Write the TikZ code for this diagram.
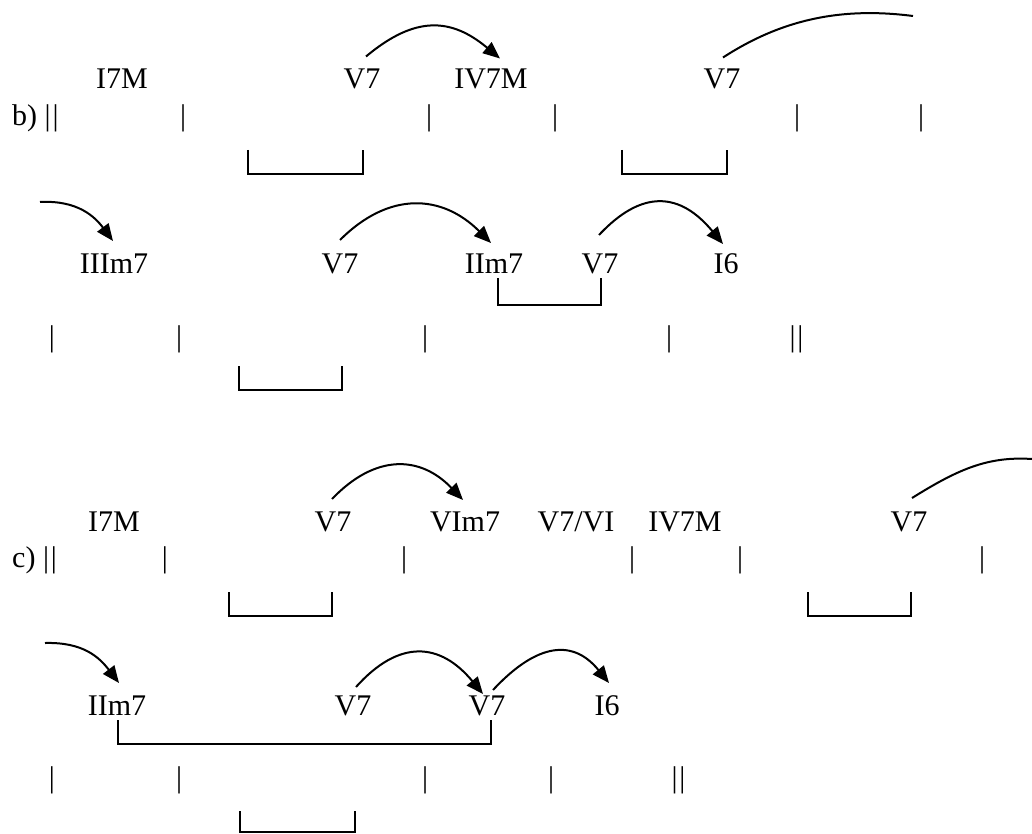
\documentclass[tikz,border=0pt]{standalone}
\usepackage{fontspec}
\setmainfont{Liberation Serif}
\usetikzlibrary{arrows.meta}
\newcommand{\dbar}{|\kern2pt|}
\begin{document}
\begin{tikzpicture}[x=1pt,y=-1pt,
  every node/.style={font=\fontsize{30}{34}\selectfont, inner sep=0pt, anchor=base},
  chord/.style={},
  barmark/.style={},
  lead/.style={anchor=base west},
  arr/.style={line width=2pt, -{Triangle[length=17pt,width=14pt]}},
  arc/.style={line width=2pt},
  brk/.style={line width=1.8pt}]
\useasboundingbox (0,0) rectangle (1032,834);
% ---------- row b, line 1 ----------
\node[chord] (b1) at (122,88.5) {I7M};
\node[chord] (b2) at (362,88.5) {V7};
\node[chord] (b3) at (491,88.5) {IV7M};
\node[chord] (b4) at (722,88.5) {V7};
\node[lead] (blead) at (12,125.5) {b) \dbar};
\node[barmark] (bb1) at (183,125.5) {|};
\node[barmark] (bb2) at (429,125.5) {|};
\node[barmark] (bb3) at (555,125.5) {|};
\node[barmark] (bb4) at (797,125.5) {|};
\node[barmark] (bb5) at (921,125.5) {|};
\draw[brk] (248,150) -- (248,174) -- (363,174) -- (363,150);
\draw[brk] (622,150) -- (622,174) -- (727,174) -- (727,150);
\draw[arr] ([shift={(4,-32)}]b2.base) .. controls +(49,-41) and +(-49,-41) .. ([shift={(9,-30)}]b3.base);
\coordinate (bend1) at (913,16);
\draw[arc] ([shift={(1,-31)}]b4.base) .. controls +(60,-39) and +(-70,-9) .. (bend1);
% ---------- row b, line 2 ----------
\node[chord] (d1) at (114,273) {IIIm7};
\node[chord] (d2) at (340,273) {V7};
\node[chord] (d3) at (494,273) {IIm7};
\node[chord] (d4) at (600,273) {V7};
\node[chord] (d5) at (726,273) {I6};
\coordinate (din) at (40,202);
\draw[arr] (din) .. controls +(38,-2) and +(-18,-24) .. ([shift={(-1,-32)}]d1.base);
\draw[arr] ([shift={(0,-33)}]d2.base) .. controls +(49,-49) and +(-49,-49) .. ([shift={(-3,-30)}]d3.base);
\draw[arr] ([shift={(-1,-38)}]d4.base) .. controls +(43,-46) and +(-43,-52) .. ([shift={(-3,-29)}]d5.base);
\draw[brk] (498,278) -- (498,305) -- (601,305) -- (601,278);
\node[barmark] (db1) at (52,346.5) {|};
\node[barmark] (db2) at (179,346.5) {|};
\node[barmark] (db3) at (425,346.5) {|};
\node[barmark] (db4) at (669,346.5) {|};
\node[barmark] (db5) at (796.5,346.5) {\dbar};
\draw[brk] (239,366) -- (239,390) -- (342,390) -- (342,366);
% ---------- row c, line 1 ----------
\node[chord] (c1) at (114,531) {I7M};
\node[chord] (c2) at (333,531) {V7};
\node[chord] (c3) at (465,531) {VIm7};
\node[chord] (c4) at (576,531) {V7/VI};
\node[chord] (c5) at (685,531) {IV7M};
\node[chord] (c6) at (909,531) {V7};
\node[lead] (clead) at (12,567.5) {c) \dbar};
\node[barmark] (cb1) at (165,567.5) {|};
\node[barmark] (cb2) at (404,567.5) {|};
\node[barmark] (cb3) at (632,567.5) {|};
\node[barmark] (cb4) at (740,567.5) {|};
\node[barmark] (cb5) at (982,567.5) {|};
\draw[brk] (229,592) -- (229,616) -- (332,616) -- (332,592);
\draw[brk] (808,592) -- (808,616) -- (911,616) -- (911,592);
\draw[arr] ([shift={(-1,-32)}]c2.base) .. controls +(43,-45) and +(-43,-45) .. ([shift={(-2,-31)}]c3.base);
\coordinate (bend2) at (1032,459);
\draw[arc] ([shift={(3,-33)}]c6.base) .. controls +(45,-28) and +(-45,-3) .. (bend2);
% ---------- row c, line 2 ----------
\node[chord] (e1) at (117,715) {IIm7};
\node[chord] (e2) at (353,715) {V7};
\node[chord] (e3) at (487,715) {V7};
\node[chord] (e4) at (607,715) {I6};
\coordinate (ein) at (45,643);
\draw[arr] (ein) .. controls +(38,-1) and +(-20,-26) .. ([shift={(2,-32)}]e1.base);
\draw[arr] ([shift={(3,-28)}]e2.base) .. controls +(43,-48) and +(-43,-52) .. ([shift={(-4,-21)}]e3.base);
\draw[arr] ([shift={(6,-25)}]e3.base) .. controls +(39,-42) and +(-39,-48) .. ([shift={(2,-32)}]e4.base);
\draw[brk] (118,720) -- (118,744) -- (491,744) -- (491,720);
\node[barmark] (eb1) at (52,787.5) {|};
\node[barmark] (eb2) at (179,787.5) {|};
\node[barmark] (eb3) at (425,787.5) {|};
\node[barmark] (eb4) at (551,787.5) {|};
\node[barmark] (eb5) at (678.5,787.5) {\dbar};
\draw[brk] (240,811) -- (240,832) -- (355,832) -- (355,811);
\end{tikzpicture}
\end{document}
